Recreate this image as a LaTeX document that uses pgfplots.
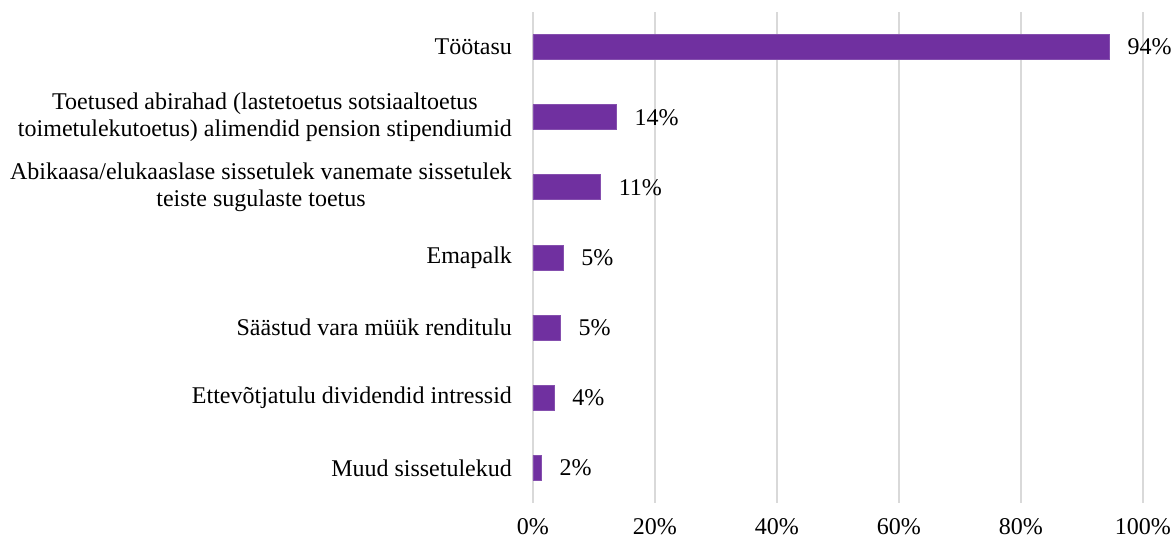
\documentclass[border=0pt]{standalone}
\usepackage{pgfplots}
\pgfplotsset{compat=1.18}
\usepackage{pgfplotstable}
\usepackage{fontspec}
\setmainfont{Liberation Serif}
\definecolor{barpurple}{HTML}{7030A0}
\definecolor{gridgray}{HTML}{D9D9D9}

\pgfplotstableread{
y x lbl
0 94.5 94
1 13.7 14
2 11.1 11
3 4.95 5
4 4.5 5
5 3.5 4
6 1.4 2
}\incomedata

\begin{document}
\begin{tikzpicture}
\begin{axis}[
  scale only axis,
  width=305pt, height=245.5pt,
  xbar, bar width=12.5pt,
  xmin=0, xmax=100,
  ymin=-0.5, ymax=6.5,
  y dir=reverse,
  xtick={0,20,40,60,80,100},
  xticklabel={\pgfmathprintnumber{\tick}\%},
  ytick={0,...,6},
  yticklabels={
    {Töötasu},
    {Toetused abirahad (lastetoetus sotsiaaltoetus\\toimetulekutoetus) alimendid pension stipendiumid},
    {Abikaasa/elukaaslase sissetulek vanemate sissetulek\\teiste sugulaste toetus},
    {Emapalk},
    {Säästud vara müük renditulu},
    {Ettevõtjatulu dividendid intressid},
    {Muud sissetulekud}},
  yticklabel style={align=center, font=\fontsize{12}{13.5}\selectfont, xshift=-7pt},
  xticklabel style={font=\fontsize{12}{13.5}\selectfont, yshift=-4pt},
  /pgf/number format/assume math mode=true,
  axis line style={draw=none},
  major tick length=0pt,
  xmajorgrids,
  grid style={gridgray, line width=0.8pt},
  nodes near coords={\pgfmathprintnumber{\pgfplotspointmeta}\%},
  point meta=explicit,
  nodes near coords style={font=\fontsize{12}{13.5}\selectfont, anchor=west, xshift=5.5pt, black},
]
\addplot[fill=barpurple, draw=barpurple!85!white] table[x=x, y=y, meta=lbl] {\incomedata};
\end{axis}
\pgfresetboundingbox
\path[use as bounding box] ([xshift=-266.5pt, yshift=-18pt]current axis.south west) rectangle ([xshift=15pt, yshift=6pt]current axis.north east);
\end{tikzpicture}
\end{document}
